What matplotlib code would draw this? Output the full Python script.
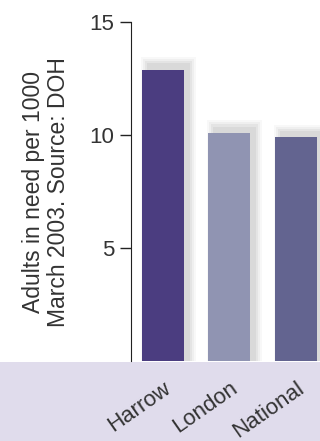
import numpy as np
import matplotlib.pyplot as plt
from matplotlib.patches import Rectangle

plt.rcParams['font.family'] = ['Liberation Sans', 'DejaVu Sans']

regions = ["Harrow", "London", "National"]
adults_per_1000 = [12.9, 10.1, 9.9]
bar_colors = ["#4b3d80", "#9094b2", "#636490"]
y_ticks = [5, 10, 15]

fig = plt.figure(figsize=(3.2, 4.41), dpi=100)
fig.patches.append(Rectangle((0, 0), 1, 0.179, transform=fig.transFigure,
                             facecolor="#e0dcec", edgecolor="none", zorder=-5))

ax = fig.add_axes([0.409, 0.181, 0.591, 0.769])
ax.patch.set_alpha(0)
x = np.arange(len(regions))

# soft grey drop shadow (up and to the right)
for grow, alpha in [(0.10, 0.05), (0.07, 0.07), (0.04, 0.09), (0.01, 0.11)]:
    ax.bar(x + 0.08, np.array(adults_per_1000) + 0.25 + grow * 3, width=0.63 + 2 * grow,
           color="#808080", alpha=alpha, zorder=1, clip_on=False)
ax.bar(x, adults_per_1000, width=0.63, color=bar_colors, zorder=2)

ax.set_xlim(-0.48, 2.36)
ax.set_ylim(0, 15)
ax.set_yticks(y_ticks)
ax.set_yticklabels([str(t) for t in y_ticks], fontsize=16, color="#333333")
ax.tick_params(axis='y', length=8, width=1, direction='out', pad=4, colors="#222222",
               labelcolor="#333333")
ax.set_xticks([])
for s in ["top", "right", "bottom"]:
    ax.spines[s].set_visible(False)
ax.spines["left"].set_color("#222222")

ax.set_ylabel("Adults in need per 1000\nMarch 2003. Source: DOH", fontsize=16.5,
              color="#333333", labelpad=14, linespacing=1.1)

for i, name in enumerate(regions):
    ax.annotate(name, xy=(x[i], 0), xytext=(0, -12), textcoords="offset points",
                rotation=35, rotation_mode="anchor", ha="right", va="top",
                fontsize=16, color="#333333", annotation_clip=False, zorder=5)

fig.savefig("out.png", dpi=100)
